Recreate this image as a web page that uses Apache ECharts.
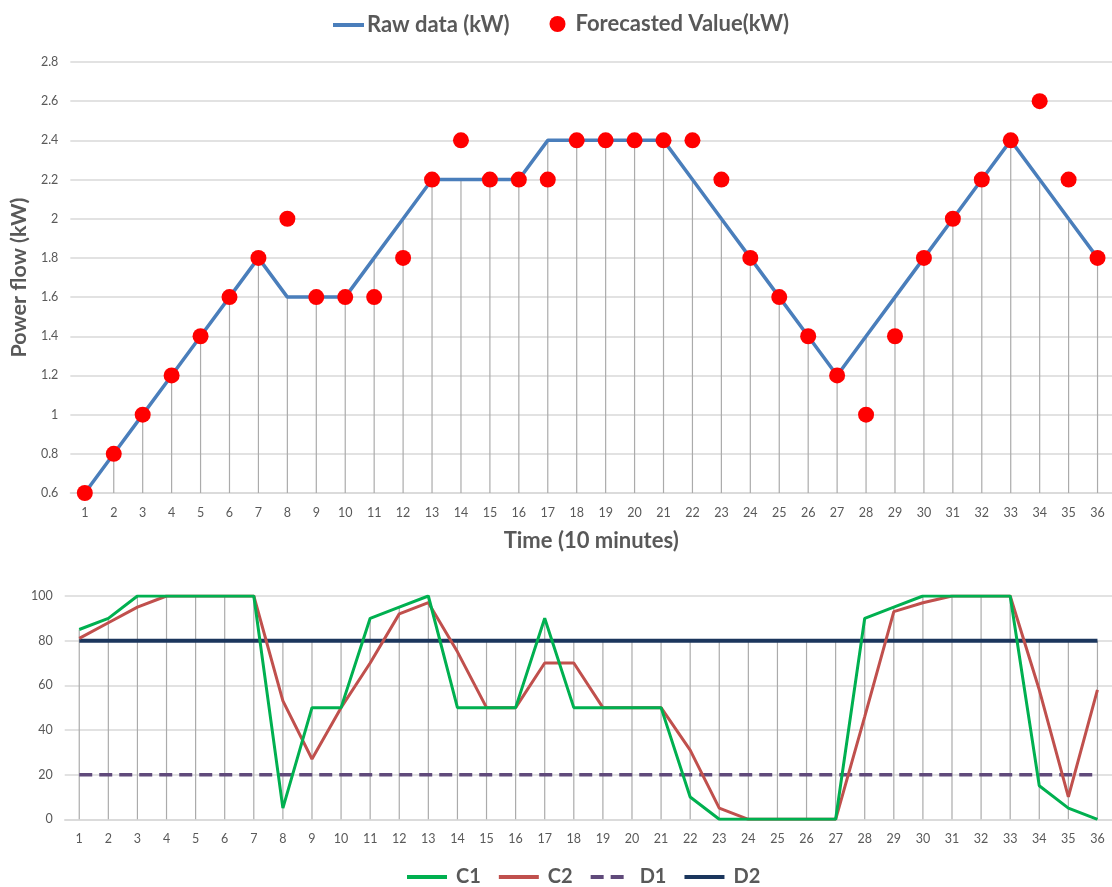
<!DOCTYPE html>
<html>
<head>
<meta charset="utf-8">
<title>Power flow forecast</title>
<script src="https://cdn.jsdelivr.net/npm/echarts@6/dist/echarts.min.js"></script>
<style>
  html, body { margin: 0; padding: 0; background: #ffffff; }
  #chart { width: 1112px; height: 887px; }
</style>
</head>
<body>
<div id="chart"></div>
<script>
// Time steps (10-minute intervals)
const timeSteps = ['1','2','3','4','5','6','7','8','9','10','11','12','13','14','15','16','17','18',
  '19','20','21','22','23','24','25','26','27','28','29','30','31','32','33','34','35','36'];

// Upper panel: measured and forecasted power flow (kW)
const rawData = [0.6, 0.8, 1.0, 1.2, 1.4, 1.6, 1.8, 1.6, 1.6, 1.6, 1.8, 2.0, 2.2, 2.2, 2.2, 2.2, 2.4, 2.4,
  2.4, 2.4, 2.4, 2.2, 2.0, 1.8, 1.6, 1.4, 1.2, 1.4, 1.6, 1.8, 2.0, 2.2, 2.4, 2.2, 2.0, 1.8];
const forecastData = [0.6, 0.8, 1.0, 1.2, 1.4, 1.6, 1.8, 2.0, 1.6, 1.6, 1.6, 1.8, 2.2, 2.4, 2.2, 2.2, 2.2, 2.4,
  2.4, 2.4, 2.4, 2.4, 2.2, 1.8, 1.6, 1.4, 1.2, 1.0, 1.4, 1.8, 2.0, 2.2, 2.4, 2.6, 2.2, 1.8];

// Lower panel: indicator series (0-100)
const c1Data = [85, 90, 100, 100, 100, 100, 100, 5, 50, 50, 90, 95, 100, 50, 50, 50, 90, 50,
  50, 50, 50, 10, 0, 0, 0, 0, 0, 90, 95, 100, 100, 100, 100, 15, 5, 0];
const c2Data = [81, 88, 95, 100, 100, 100, 100, 53, 27, 50, 70, 92, 97, 75, 50, 50, 70, 70,
  50, 50, 50, 31, 5, 0, 0, 0, 0, 46, 93, 97, 100, 100, 100, 58, 10, 58];
const d1Data = timeSteps.map(() => 20);
const d2Data = timeSteps.map(() => 80);

const topTicks = { min: 0.6, max: 2.8, interval: 0.2 };
const bottomTicks = { min: 0, max: 100, interval: 20 };

const TEXT = '#595959';
const GRID_LINE = '#D9D9D9';
const DROP_LINE = '#ABABAB';
const FONT = 'Lato, "Open Sans", sans-serif';

// Vertical drop line from each point down to the bottom of the value axis
function dropLineRenderer(baseValue) {
  return function (params, api) {
    const top = api.coord([api.value(0), api.value(1)]);
    const bottom = api.coord([api.value(0), baseValue]);
    return {
      type: 'line',
      shape: { x1: top[0], y1: top[1], x2: bottom[0], y2: bottom[1] },
      style: { stroke: DROP_LINE, lineWidth: 1.2 }
    };
  };
}

const topDrops = rawData.map((v, i) => [i, v]);
const bottomDrops = timeSteps.map((_, i) =>
  [i, Math.max(c1Data[i], c2Data[i], d1Data[i], d2Data[i])]);

const axisLabelStyle = { color: TEXT, fontSize: 12.5, fontFamily: FONT };
const legendText = { color: TEXT, fontSize: 22, fontWeight: 'bold', fontFamily: FONT };
// Line-only legend icons (hide the marker drawn in the middle of the line)
const hiddenMarker = { color: 'rgba(0,0,0,0)', borderWidth: 0, opacity: 0 };

const chart = echarts.init(document.getElementById('chart'), null, { renderer: 'canvas' });

chart.setOption({
  animation: false,
  backgroundColor: '#ffffff',
  textStyle: { fontFamily: FONT },
  legend: [
    {
      data: ['Raw data (kW)'],
      left: 331, top: 14, padding: 0,
      itemWidth: 31, itemHeight: 14,
      itemStyle: hiddenMarker,
      lineStyle: { width: 4 },
      textStyle: Object.assign({}, legendText, { padding: [0, 0, 0, -2] })
    },
    {
      data: [{ name: 'Forecasted Value(kW)', icon: 'circle' }],
      left: 549.5, top: 13, padding: 0,
      itemWidth: 16, itemHeight: 16,
      textStyle: Object.assign({}, legendText, { padding: [0, 0, 0, 5] })
    },
    {
      data: ['C1', 'C2', 'D1', 'D2'],
      left: 405, top: 867, padding: 0,
      itemWidth: 40, itemHeight: 14, itemGap: 16,
      itemStyle: hiddenMarker,
      lineStyle: { width: 4 },
      textStyle: Object.assign({}, legendText, { fontSize: 20, padding: [0, 0, 0, 4] })
    }
  ],
  grid: [
    { left: 68, top: 62, width: 1048, height: 431 },
    { left: 64.7, top: 596, width: 1053, height: 223.3 }
  ],
  xAxis: [
    {
      gridIndex: 0, type: 'category', data: timeSteps, boundaryGap: true,
      axisLine: { show: true, lineStyle: { color: GRID_LINE, width: 1.5 } },
      axisTick: { show: false },
      axisLabel: Object.assign({ margin: 13, interval: 0 }, axisLabelStyle),
      name: 'Time (10 minutes)', nameLocation: 'middle', nameGap: 37,
      nameTextStyle: { color: TEXT, fontSize: 22, fontWeight: 'bold', fontFamily: FONT }
    },
    {
      gridIndex: 1, type: 'category', data: timeSteps, boundaryGap: true,
      axisLine: { show: true, lineStyle: { color: GRID_LINE, width: 1.5 } },
      axisTick: { show: false },
      axisLabel: Object.assign({ margin: 13, interval: 0 }, axisLabelStyle)
    }
  ],
  yAxis: [
    {
      gridIndex: 0, type: 'value',
      min: topTicks.min, max: topTicks.max, interval: topTicks.interval,
      axisLine: { show: false }, axisTick: { show: false },
      axisLabel: Object.assign({ margin: 12 }, axisLabelStyle),
      splitLine: { show: true, lineStyle: { color: GRID_LINE, width: 1.5 } },
      name: 'Power flow (kW)', nameLocation: 'middle', nameGap: 36, nameRotate: 90,
      nameTextStyle: { color: TEXT, fontSize: 21.5, fontWeight: 'bold', fontFamily: FONT }
    },
    {
      gridIndex: 1, type: 'value',
      min: bottomTicks.min, max: bottomTicks.max, interval: bottomTicks.interval,
      axisLine: { show: false }, axisTick: { show: false },
      axisLabel: Object.assign({ margin: 12 }, axisLabelStyle),
      splitLine: { show: true, lineStyle: { color: GRID_LINE, width: 1.5 } }
    }
  ],
  series: [
    {
      name: 'drop-top', type: 'custom', xAxisIndex: 0, yAxisIndex: 0,
      renderItem: dropLineRenderer(topTicks.min), data: topDrops, z: 1, silent: true
    },
    {
      name: 'Raw data (kW)', type: 'line', xAxisIndex: 0, yAxisIndex: 0,
      data: rawData, showSymbol: false, symbol: 'none', z: 3,
      lineStyle: { color: '#4A7EBB', width: 3.5 }, itemStyle: { color: '#4A7EBB' }
    },
    {
      name: 'Forecasted Value(kW)', type: 'scatter', xAxisIndex: 0, yAxisIndex: 0,
      data: forecastData, symbol: 'circle', symbolSize: 16, z: 4,
      itemStyle: { color: '#FF0000', opacity: 1 }
    },
    {
      name: 'drop-bottom', type: 'custom', xAxisIndex: 1, yAxisIndex: 1,
      renderItem: dropLineRenderer(bottomTicks.min), data: bottomDrops, z: 1, silent: true
    },
    {
      name: 'D1', type: 'line', xAxisIndex: 1, yAxisIndex: 1, data: d1Data,
      showSymbol: false, symbol: 'none', z: 3,
      lineStyle: { color: '#604A7B', width: 3.5, type: [13, 7] }, itemStyle: { color: '#604A7B' }
    },
    {
      name: 'D2', type: 'line', xAxisIndex: 1, yAxisIndex: 1, data: d2Data,
      showSymbol: false, symbol: 'none', z: 3,
      lineStyle: { color: '#1B365D', width: 4 }, itemStyle: { color: '#1B365D' }
    },
    {
      name: 'C2', type: 'line', xAxisIndex: 1, yAxisIndex: 1, data: c2Data,
      showSymbol: false, symbol: 'none', z: 4,
      lineStyle: { color: '#C0504D', width: 3 }, itemStyle: { color: '#C0504D' }
    },
    {
      name: 'C1', type: 'line', xAxisIndex: 1, yAxisIndex: 1, data: c1Data,
      showSymbol: false, symbol: 'none', z: 5,
      lineStyle: { color: '#00B050', width: 3 }, itemStyle: { color: '#00B050' }
    }
  ]
});
</script>
</body>
</html>
